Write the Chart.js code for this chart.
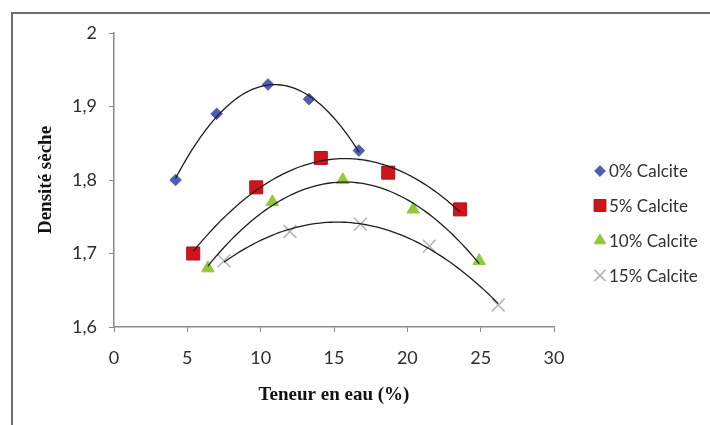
<!DOCTYPE html>
<html>
<head>
<meta charset="utf-8">
<script src="https://cdn.jsdelivr.net/npm/chart.js@4.4.1/dist/chart.umd.min.js"></script>
<style>
  html, body { margin: 0; padding: 0; background: #ffffff; }
  #wrap { position: relative; width: 710px; height: 425px; overflow: hidden; }
  #frame { position: absolute; left: 11px; top: 12px; width: 720px; height: 430px;
           border-left: 2px solid #6e6e6e; border-top: 2px solid #6e6e6e; }
  canvas { position: absolute; left: 0; top: 0; }
</style>
</head>
<body>
<div id="wrap">
  <div id="frame"></div>
  <canvas id="chart" width="710" height="425"></canvas>
</div>
<script>
// Teneur en eau (%) and dry density for each calcite content
const seriesNames = ['0% Calcite', '5% Calcite', '10% Calcite', '15% Calcite'];
const water0  = [4.2, 7.0, 10.5, 13.3, 16.7];
const dens0   = [1.80, 1.89, 1.93, 1.91, 1.84];
const water5  = [5.4, 9.7, 14.1, 18.7, 23.6];
const dens5   = [1.70, 1.79, 1.83, 1.81, 1.76];
const water10 = [6.4, 10.8, 15.6, 20.4, 24.9];
const dens10  = [1.68, 1.77, 1.80, 1.76, 1.69];
const water15 = [7.5, 12.0, 16.8, 21.5, 26.2];
const dens15  = [1.69, 1.73, 1.74, 1.71, 1.63];
const xTickLabels = ['0', '5', '10', '15', '20', '25', '30'];
const yTickLabels = ['1,6', '1,7', '1,8', '1,9', '2'];

const styles = [
  { pointStyle: 'rectRot',  radius: 5.8, color: '#4c5db4', border: '#4c5db4', bw: 1 },
  { pointStyle: 'rect',     radius: 9.2, color: '#d0141c', border: '#b01018', bw: 1 },
  { pointStyle: 'triangle', radius: 7.2, color: '#93c83c', border: '#93c83c', bw: 1 },
  { pointStyle: 'crossRot', radius: 9.0, color: '#b4b4c2', border: '#b4b4c2', bw: 1.6 }
];

const seriesX = [water0, water5, water10, water15];
const seriesY = [dens0, dens5, dens10, dens15];

// least-squares second order polynomial trendline
function quadFit(xs, ys) {
  let s0 = 0, s1 = 0, s2 = 0, s3 = 0, s4 = 0, t0 = 0, t1 = 0, t2 = 0;
  for (let i = 0; i < xs.length; i++) {
    const x = xs[i], y = ys[i];
    s0 += 1; s1 += x; s2 += x * x; s3 += x * x * x; s4 += x * x * x * x;
    t0 += y; t1 += x * y; t2 += x * x * y;
  }
  const M = [[s0, s1, s2, t0], [s1, s2, s3, t1], [s2, s3, s4, t2]];
  for (let c = 0; c < 3; c++) {
    for (let r = c + 1; r < 3; r++) {
      const f = M[r][c] / M[c][c];
      for (let k = c; k < 4; k++) M[r][k] -= f * M[c][k];
    }
  }
  const b = [0, 0, 0];
  for (let r = 2; r >= 0; r--) {
    let s = M[r][3];
    for (let k = r + 1; k < 3; k++) s -= M[r][k] * b[k];
    b[r] = s / M[r][r];
  }
  return b;
}

function trendPoints(xs, ys) {
  const c = quadFit(xs, ys);
  const lo = Math.min(...xs), hi = Math.max(...xs);
  const pts = [];
  const n = 80;
  for (let i = 0; i <= n; i++) {
    const x = lo + (hi - lo) * i / n;
    pts.push({ x: x, y: c[0] + c[1] * x + c[2] * x * x });
  }
  return pts;
}

const datasets = [];
seriesNames.forEach((name, i) => {
  const st = styles[i];
  datasets.push({
    label: name,
    data: seriesX[i].map((x, j) => ({ x: x, y: seriesY[i][j] })),
    showLine: false,
    pointStyle: st.pointStyle,
    pointRadius: st.radius,
    pointHoverRadius: st.radius,
    pointBackgroundColor: st.color,
    pointBorderColor: st.border,
    pointBorderWidth: st.bw,
    order: 1
  });
});
seriesNames.forEach((name, i) => {
  datasets.push({
    label: 'trend ' + name,
    data: trendPoints(seriesX[i], seriesY[i]),
    showLine: true,
    pointRadius: 0,
    borderColor: '#1e1e1e',
    borderWidth: 1.3,
    tension: 0,
    order: 0
  });
});

// legend at the right of the plot
const sideLegend = {
  id: 'sideLegend',
  afterDraw(chart) {
    const ctx = chart.ctx;
    const rows = [171, 205.5, 240.5, 275.5];
    ctx.save();
    seriesNames.forEach((name, i) => {
      const st = styles[i];
      ctx.fillStyle = st.color;
      ctx.strokeStyle = st.border;
      ctx.lineWidth = st.bw;
      const r = st.pointStyle === 'rect' ? 8.4 : st.pointStyle === 'crossRot' ? 8 : st.pointStyle === 'triangle' ? 6.6 : 5.4;
      Chart.helpers.drawPoint(ctx, { pointStyle: st.pointStyle, radius: r, rotation: 0, borderWidth: st.bw }, 600, rows[i]);
      ctx.fillStyle = '#2e3038';
      ctx.font = '17px Lato';
      ctx.textAlign = 'left';
      ctx.textBaseline = 'middle';
      ctx.fillText(name, 609, rows[i] + 1);
    });
    ctx.restore();
  }
};

new Chart(document.getElementById('chart'), {
  type: 'scatter',
  data: { datasets: datasets },
  plugins: [sideLegend],
  options: {
    responsive: false,
    animation: false,
    events: [],
    layout: { padding: { left: 0, right: 156, top: 33, bottom: 0 } },
    plugins: { legend: { display: false }, tooltip: { enabled: false } },
    scales: {
      x: {
        type: 'linear',
        min: 0, max: 30,
        afterFit(scale) { scale.height = 98; },
        ticks: {
          stepSize: 5,
          padding: 15,
          color: '#2e2e2e',
          font: { family: 'Lato', size: 18 },
          callback: (v, i) => xTickLabels[i]
        },
        grid: { drawOnChartArea: false, drawTicks: true, tickLength: 5, color: '#8a8a8a', lineWidth: 1 },
        border: { display: true, color: '#8a8a8a', width: 1.5 },
        title: {
          display: true,
          text: 'Teneur en eau (%)',
          color: '#111111',
          font: { family: 'Liberation Serif', size: 19, weight: 'bold' },
          padding: { top: 0, bottom: 18.6 }
        }
      },
      y: {
        type: 'linear',
        min: 1.6, max: 2.0,
        afterFit(scale) { scale.width = 114; },
        ticks: {
          stepSize: 0.1,
          padding: 12,
          color: '#2e2e2e',
          font: { family: 'Lato', size: 18 },
          callback: (v, i) => yTickLabels[i]
        },
        grid: { drawOnChartArea: false, drawTicks: true, tickLength: 5, color: '#8a8a8a', lineWidth: 1 },
        border: { display: true, color: '#8a8a8a', width: 1.5 },
        title: {
          display: true,
          text: 'Densité sèche',
          color: '#111111',
          font: { family: 'Liberation Serif', size: 19, weight: 'bold' },
          padding: { top: 34.6, bottom: 0 }
        }
      }
    }
  }
});
</script>
</body>
</html>
